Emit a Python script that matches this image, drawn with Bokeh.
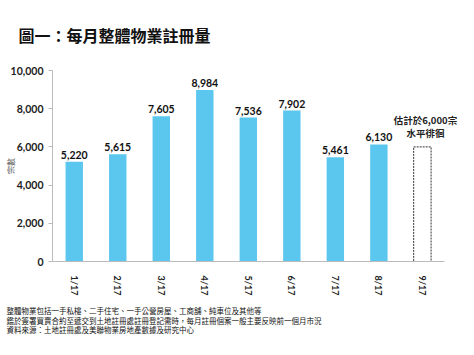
from bokeh.plotting import figure
from bokeh.models import Label, NumeralTickFormatter, ColumnDataSource, LabelSet, Title, Range1d
from bokeh.embed import file_html
from bokeh.resources import INLINE
from bokeh.core.properties import value

months = ["1/17", "2/17", "3/17", "4/17", "5/17", "6/17", "7/17", "8/17", "9/17"]
registrations = [5220, 5615, 7605, 8984, 7536, 7902, 5461, 6130]
estimate_month = ["9/17"]
estimate_value = [6000]
y_ticks = [0, 2000, 4000, 6000, 8000, 10000]
title_text = "圖一：每月整體物業註冊量"
note_lines = [
    "整體物業包括一手私樓、二手住宅、一手公營房屋、工商舖、純車位及其他等",
    "鑑於簽署買賣合約至遞交到土地註冊處註冊登記需時，每月註冊個案一般主要反映前一個月市況",
    "資料來源：土地註冊處及美聯物業房地產數據及研究中心",
]
estimate_note = ["估計於6,000宗", "水平徘徊"]

xpos = {m: i for i, m in enumerate(months)}

W, H = 458, 339
p = figure(x_range=Range1d(-0.5, 8.83), y_range=(0, 10000), width=W, height=H,
           output_backend="svg", toolbar_location=None,
           min_border_left=52, min_border_right=0, min_border_top=65, min_border_bottom=78)
p.outline_line_color = None
p.xgrid.visible = False
p.ygrid.visible = False

src = ColumnDataSource(dict(x=[xpos[m] for m in months[:len(registrations)]], v=registrations,
                            lab=[f"{v:,}" for v in registrations]))
p.vbar(x="x", top="v", width=0.4, source=src, color="#5BC6EE", line_color=None)
ex = [xpos[m] for m in estimate_month]
p.vbar(x=ex, top=estimate_value, width=0.4, fill_color=None,
       line_color="#333333", line_dash="2 1", line_width=1)

p.add_layout(LabelSet(x="x", y="v", text="lab", source=src, text_align="center",
                      text_baseline="bottom", y_offset=3, text_font=value("Lato"),
                      text_font_style="bold", text_font_size="10.5px", text_color="#111111"))

for i, t in enumerate(estimate_note):
    p.add_layout(Label(x=ex[0], y=estimate_value[0], text=t, text_align="center",
                       text_baseline="bottom", y_offset=20 - i * 13, x_offset=3,
                       text_font="Noto Sans CJK TC", text_font_style="bold",
                       text_font_size="9.5px", text_color="#222222"))

p.yaxis.ticker = y_ticks
p.yaxis.formatter = NumeralTickFormatter(format="0,0")
p.yaxis.major_label_text_font = "Lato"
p.yaxis.major_label_text_font_style = "bold"
p.yaxis.major_label_text_font_size = "10.5px"
p.yaxis.major_label_text_color = "#222222"
p.yaxis.axis_line_color = "#BBBBBB"
p.yaxis.major_tick_line_color = "#BBBBBB"
p.yaxis.major_tick_in = 0
p.yaxis.major_tick_out = 4
p.yaxis.minor_tick_line_color = None
p.yaxis.axis_label = "宗數"
p.yaxis.axis_label_text_font = "Noto Sans CJK TC"
p.yaxis.axis_label_text_font_style = "normal"
p.yaxis.axis_label_text_font_size = "8px"
p.yaxis.axis_label_text_color = "#555555"
p.yaxis.axis_label_standoff = -8

p.xaxis.ticker = list(range(len(months)))
p.xaxis.major_label_overrides = {i: m for i, m in enumerate(months)}
p.xaxis.bounds = (-0.5, len(months) - 0.5)
p.xaxis.major_label_orientation = "vertical"
p.xaxis.major_label_text_font = "Lato"
p.xaxis.major_label_text_font_style = "bold"
p.xaxis.major_label_text_font_size = "9px"
p.xaxis.major_label_text_color = "#222222"
p.xaxis.axis_line_color = "#BBBBBB"
p.xaxis.major_tick_line_color = None
p.xaxis.minor_tick_line_color = None
p.xaxis.major_label_standoff = 8

t = Title(text=title_text, align="left", offset=-34, standoff=44, vertical_align="top",
          text_font="Noto Sans CJK TC", text_font_style="bold", text_font_size="16px",
          text_color="#111111")
p.add_layout(t, "above")
p.add_layout(Title(text="\n".join(note_lines), align="left", offset=-46, standoff=8,
                   text_font="Noto Sans CJK TC", text_font_style="normal",
                   text_font_size="7.5px", text_color="#111111", text_line_height=0.9), "below")

open("out.html", "w").write(file_html(p, INLINE))
